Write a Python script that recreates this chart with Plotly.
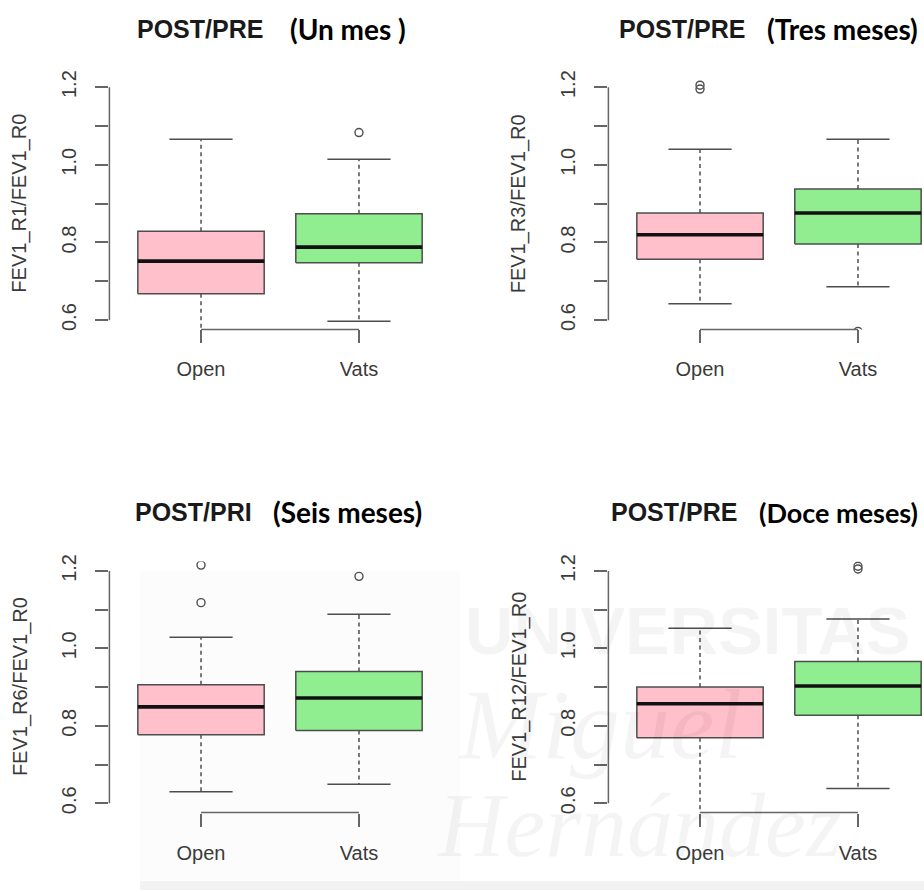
import plotly.graph_objects as go

# ---------------- data ----------------
categories = ["Open", "Vats"]
main_titles = ["POST/PRE", "POST/PRE", "POST/PRI", "POST/PRE"]
sub_titles = ["(Un mes )", "(Tres meses)", "(Seis meses)", "(Doce meses)"]
y_titles = ["FEV1_R1/FEV1_R0", "FEV1_R3/FEV1_R0", "FEV1_R6/FEV1_R0", "FEV1_R12/FEV1_R0"]
y_tick_vals = [0.6, 0.7, 0.8, 0.9, 1.0, 1.1, 1.2]
y_tick_text = ["0.6", "", "0.8", "", "1.0", "", "1.2"]

# per panel, per category [Open, Vats]
lower_whisker = [[0.55, 0.597], [0.642, 0.686], [0.630, 0.649], [0.55, 0.638]]
q1 = [[0.668, 0.748], [0.757, 0.796], [0.777, 0.788], [0.769, 0.827]]
median = [[0.752, 0.788], [0.820, 0.876], [0.849, 0.872], [0.857, 0.903]]
q3 = [[0.829, 0.874], [0.876, 0.938], [0.906, 0.940], [0.900, 0.966]]
upper_whisker = [[1.066, 1.014], [1.040, 1.066], [1.029, 1.088], [1.052, 1.076]]
outliers = [[[], [1.083]], [[1.195, 1.205], [0.571]], [[1.118, 1.215], [1.186]], [[], [1.205, 1.212]]]

box_colors = ["#FFC0CB", "#90EE90"]
y_range = [0.576, 1.224]
x_ranges = [[0.42, 2.58], [0.42, 2.418], [0.42, 2.58], [0.42, 2.418]]

# ---------------- layout geometry ----------------
W, H = 924, 892
x_domains = [[109.4 / W, 450.6 / W], [608.4 / W, 1.0], [109.4 / W, 450.6 / W], [608.4 / W, 1.0]]
y_domains = [[1 - 325.1 / H, 1 - 70.6 / H], [1 - 325.1 / H, 1 - 70.6 / H],
             [1 - 813.7 / H, 1 - 559.9 / H], [1 - 813.7 / H, 1 - 559.9 / H]]
title_px = [(135, 288, 21), (617, 765, 21), (133, 271, 510), (609, 757, 510)]
sub_sizes = [28, 28, 28, 27]
ytitle_px = [20, 518.7, 20, 518.7]

BOXW = 0.4
CAPW = 0.2
EDGE = "#4d4d4d"
AXC = "#666666"
TXT = "#3a3a3a"
FONT = "Liberation Sans, Arial, sans-serif"

fig = go.Figure()
shapes = []
annotations = []

for p in range(4):
    xa = "x" if p == 0 else f"x{p + 1}"
    ya = "y" if p == 0 else f"y{p + 1}"
    for i, cat in enumerate(categories):
        c = i + 1
        # whiskers (dashed)
        for a, b in ((q3[p][i], upper_whisker[p][i]), (q1[p][i], lower_whisker[p][i])):
            fig.add_trace(go.Scatter(x=[c, c], y=[a, b], mode="lines", xaxis=xa, yaxis=ya,
                                     line=dict(color=EDGE, width=1.5, dash="4px,3.5px"),
                                     hoverinfo="skip", showlegend=False))
        # caps
        for v in (upper_whisker[p][i], lower_whisker[p][i]):
            fig.add_trace(go.Scatter(x=[c - CAPW, c + CAPW], y=[v, v], mode="lines", xaxis=xa, yaxis=ya,
                                     line=dict(color=EDGE, width=1.5),
                                     hoverinfo="skip", showlegend=False))
        # box
        fig.add_trace(go.Scatter(x=[c - BOXW, c + BOXW, c + BOXW, c - BOXW, c - BOXW],
                                 y=[q1[p][i], q1[p][i], q3[p][i], q3[p][i], q1[p][i]],
                                 mode="lines", fill="toself", fillcolor=box_colors[i],
                                 line=dict(color=EDGE, width=1.5), xaxis=xa, yaxis=ya,
                                 hoverinfo="skip", showlegend=False))
        # median
        fig.add_trace(go.Scatter(x=[c - BOXW, c + BOXW], y=[median[p][i], median[p][i]],
                                 mode="lines", line=dict(color="#111111", width=3.6),
                                 xaxis=xa, yaxis=ya, hoverinfo="skip", showlegend=False))
        # outliers
        if outliers[p][i]:
            fig.add_trace(go.Scatter(x=[c] * len(outliers[p][i]), y=outliers[p][i], mode="markers",
                                     marker=dict(symbol="circle-open", size=8, color=EDGE,
                                                 line=dict(width=1.4)),
                                     xaxis=xa, yaxis=ya, hoverinfo="skip", showlegend=False))

    xkey = "xaxis" if p == 0 else f"xaxis{p + 1}"
    ykey = "yaxis" if p == 0 else f"yaxis{p + 1}"
    fig.update_layout(**{
        xkey: dict(domain=x_domains[p], anchor=ya, range=x_ranges[p], tickvals=[1, 2],
                   ticktext=categories, ticks="outside", ticklen=13, tickwidth=1.5, tickcolor=AXC,
                   showline=False, showgrid=False, zeroline=False, ticklabelstandoff=9,
                   tickfont=dict(size=20, color=TXT, family=FONT)),
        ykey: dict(domain=y_domains[p], anchor=xa, range=y_range, tickvals=y_tick_vals,
                   ticktext=y_tick_text, ticks="outside", ticklen=13, tickwidth=1.5, tickcolor=AXC,
                   tickangle=-90, showline=False, showgrid=False, zeroline=False,
                   ticklabelstandoff=11, tickfont=dict(size=20, color=TXT, family=FONT)),
    })
    # R-style axis lines spanning only first..last tick
    shapes.append(dict(type="line", xref=xa, yref=f"{ya} domain", x0=1, x1=2, y0=0, y1=0,
                       line=dict(color=AXC, width=1.5)))
    shapes.append(dict(type="line", xref=f"{xa} domain", yref=ya, x0=0, x1=0,
                       y0=y_tick_vals[0], y1=y_tick_vals[-1], line=dict(color=AXC, width=1.5)))
    # axis title
    annotations.append(dict(text=y_titles[p], xref="paper", yref=f"{ya} domain",
                            x=ytitle_px[p] / W, y=0.5, xanchor="center", yanchor="middle",
                            textangle=-90, showarrow=False,
                            font=dict(size=20, color=TXT, family=FONT)))
    # titles
    lx, rx, ty = title_px[p]
    annotations.append(dict(text=f"<b>{main_titles[p]}</b>", xref="paper", yref="paper",
                            x=lx / W, y=1 - ty / H, xanchor="left", yanchor="middle",
                            showarrow=False, font=dict(size=25, color="#1a1a1a", family=FONT)))
    annotations.append(dict(text=f"<b>{sub_titles[p]}</b>", xref="paper", yref="paper",
                            x=rx / W, y=1 - ty / H, xanchor="left", yanchor="middle",
                            showarrow=False,
                            font=dict(size=sub_sizes[p], color="#000000", family="Lato, sans-serif")))

# faint watermark
wm = "rgba(0,0,0,0.045)"
annotations.append(dict(text="<b>UNIVERSITAS</b>", xref="paper", yref="paper", x=463 / W, y=1 - 630 / H,
                        xanchor="left", yanchor="middle", showarrow=False,
                        font=dict(size=67, color=wm, family="Liberation Sans")))
annotations.append(dict(text="<i>Miguel</i>", xref="paper", yref="paper", x=455 / W, y=1 - 725 / H,
                        xanchor="left", yanchor="middle", showarrow=False,
                        font=dict(size=100, color=wm, family="Liberation Serif")))
annotations.append(dict(text="<i>Hernández</i>", xref="paper", yref="paper", x=435 / W, y=1 - 826 / H,
                        xanchor="left", yanchor="middle", showarrow=False,
                        font=dict(size=92, color=wm, family="Liberation Serif")))
shapes.append(dict(type="rect", xref="paper", yref="paper", x0=140 / W, x1=1, y0=0, y1=1 - 883 / H,
                   line=dict(width=0), fillcolor="rgba(0,0,0,0.05)", layer="below"))
shapes.append(dict(type="rect", xref="paper", yref="paper", x0=140 / W, x1=460 / W, y0=1 - 883 / H,
                   y1=1 - 569 / H, line=dict(width=0), fillcolor="rgba(0,0,0,0.013)", layer="below"))

fig.update_layout(width=W, height=H, margin=dict(l=0, r=0, t=0, b=0),
                  paper_bgcolor="white", plot_bgcolor="rgba(0,0,0,0)",
                  showlegend=False, shapes=shapes, annotations=annotations,
                  font=dict(family=FONT, color=TXT))

fig.write_html("out.html", config={"displayModeBar": False},
               post_script="document.body.style.margin='0';document.body.style.overflow='hidden';")
